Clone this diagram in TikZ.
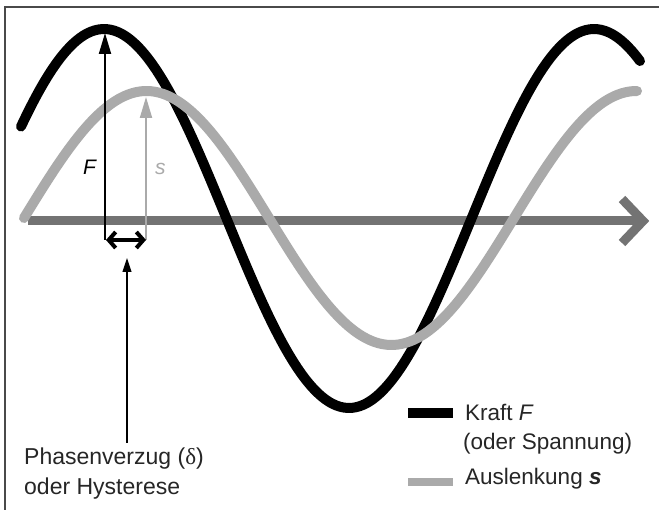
\documentclass[tikz,border=0pt]{standalone}
\usepackage{fontspec}
\setmainfont{Liberation Sans}
\newfontfamily\greekserif{Liberation Serif}
\usetikzlibrary{arrows.meta}
\definecolor{curvegray}{HTML}{AAAAAA}
\definecolor{axisgray}{HTML}{737373}
\definecolor{framegray}{HTML}{4A4A4A}
\definecolor{textcol}{HTML}{262626}
\tikzset{
  curveF/.style={line width=10pt, black, line cap=round, line join=round},
  curveS/.style={line width=10pt, curvegray, line cap=round, line join=round},
  axisline/.style={line width=9pt, axisgray},
  lbl/.style={font=\fontsize{23}{29}\selectfont, text=textcol, inner sep=0pt, anchor=base west},
  lgd/.style={font=\fontsize{22.5}{27}\selectfont, text=textcol, inner sep=0pt, anchor=base west},
  vecF/.style={line width=2pt, black, -{Triangle[length=21pt,width=12pt]}},
  vecS/.style={line width=2pt, curvegray, -{Triangle[length=21pt,width=12pt]}},
  lagarrow/.style={line width=3.5pt, black, {Straight Barb[length=7pt,width=16pt,line width=4pt]}-{Straight Barb[length=7pt,width=16pt,line width=4pt]}},
  pointer/.style={line width=1.1pt, black, -{Triangle[length=14pt,width=9pt]}},
  sym/.style={font=\fontsize{21}{21}\selectfont\itshape, inner sep=0pt, anchor=base west}
}
\begin{document}
\begin{tikzpicture}[x=1pt,y=-1pt]
\useasboundingbox (0,0) rectangle (659,510);
\fill[white] (0,0) rectangle (659,510);
% frame
\draw[framegray, line width=1.5pt] (5,510) -- (5,7) -- (659,7);
% axis
\coordinate (axL) at (28,221);
\coordinate (axR) at (644,221);
\coordinate (chT) at (622,199);
\coordinate (chA) at (643,221);
\coordinate (chB) at (622,243);
\draw[axisline] (axL) -- (axR);
\draw[axisline, line join=miter] (chT) -- (chA) -- (chB);
% curves
\draw[curveF] plot[domain=21:640, samples=160, smooth] (\x, {218.5-189.5*cos(0.734694*(\x-104))});
\draw[curveS] plot[domain=24:637, samples=160, smooth] (\x, {218-127*sin(0.734694*(\x-24))});
% vectors
\coordinate (Fbase) at (105,240);
\coordinate (Ftip) at (105,33);
\coordinate (Sbase) at (146,240);
\coordinate (Stip) at (146,97);
\draw[vecS] (Sbase) -- (Stip);
\draw[vecF] (Fbase) -- (Ftip);
\coordinate (lagL) at (106,240);
\coordinate (lagR) at (146,240);
\draw[lagarrow] (lagL) -- (lagR);
\node[sym, text=black] (Flbl) at (83,175) {F};
\node[sym, text=curvegray] (Slbl) at (155,175) {s};
% pointer and text
\node[lbl] (phase1) at (24,465) {Phasenverzug ({\greekserif δ})};
\node[lbl] (phase2) at (24,494) {oder Hysterese};
\coordinate (ptrStart) at (127,443);
\coordinate (ptrTip) at (127,258);
\draw[pointer] (ptrStart) -- (ptrTip);
% legend
\coordinate (lgF1) at (408,413);
\coordinate (lgF2) at (453,413);
\coordinate (lgS1) at (408,482);
\coordinate (lgS2) at (453,482);
\draw[line width=10pt, black] (lgF1) -- (lgF2);
\draw[line width=8pt, curvegray] (lgS1) -- (lgS2);
\node[lgd] (lgFt) at (465,421) {Kraft \textit{F}};
\node[lgd] (lgFt2) at (463,450) {(oder Spannung)};
\node[lgd] (lgSt) at (465,485) {Auslenkung \textbf{\textit{s}}};
\end{tikzpicture}
\end{document}
